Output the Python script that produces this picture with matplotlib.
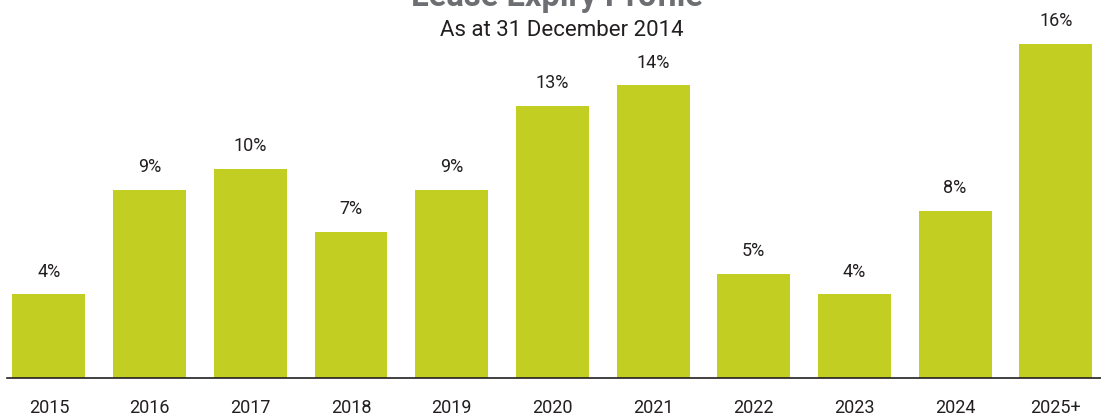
import matplotlib.pyplot as plt

years = ['2015', '2016', '2017', '2018', '2019', '2020', '2021', '2022', '2023', '2024', '2025+']
pct = [4, 9, 10, 7, 9, 13, 14, 5, 4, 8, 16]

plt.rcParams['font.family'] = ['Roboto', 'DejaVu Sans']

fig = plt.figure(figsize=(11.01, 4.17), dpi=100)
ax = fig.add_axes([7/1101, 39/417, 1 - 7/1101, 1 - 39/417])

x = range(len(years))
bars = ax.bar(x, pct, width=0.725, color='#c3ce22', zorder=2)

for b, v in zip(bars, pct):
    ax.annotate(f'{v}%', (b.get_x() + b.get_width()/2, v), xytext=(0, 10),
                textcoords='offset points', ha='center', va='bottom',
                fontsize=13, color='#231f20')

ax.set_xlim(-0.417, 10.45)
ax.set_ylim(0, 18.09)
ax.set_xticks(list(x))
ax.set_xticklabels(years, fontsize=13, color='#231f20')
ax.tick_params(axis='x', length=0, pad=15)
ax.set_yticks([])
for s in ['top', 'right', 'left']:
    ax.spines[s].set_visible(False)
ax.spines['bottom'].set_linewidth(1.2)
ax.spines['bottom'].set_color('#231f20')

fig.text(0.506, 1.0 - 6/417, 'Lease Expiry Profile', ha='center', va='baseline',
         fontsize=23.5, fontweight='bold', color='#6d6e71')
fig.text(0.510, 1.0 - 30/417, 'As at 31 December 2014', ha='center', va='center',
         fontsize=16, color='#231f20')

fig.savefig('out.png', dpi=100)
